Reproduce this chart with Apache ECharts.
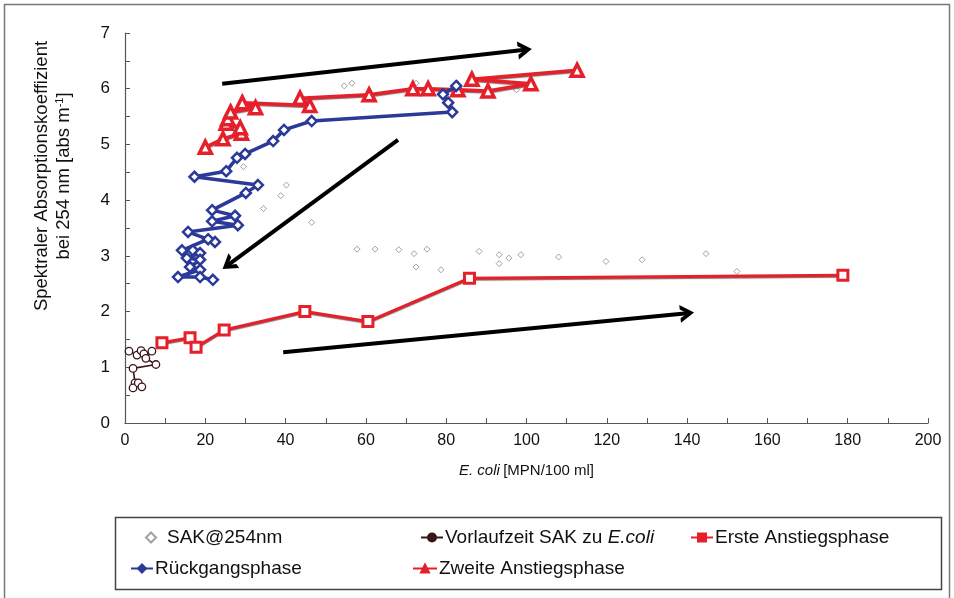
<!DOCTYPE html>
<html><head><meta charset="utf-8">
<script src="https://cdn.jsdelivr.net/npm/echarts@6/dist/echarts.min.js"></script>
<style>html,body{margin:0;padding:0;background:#fff}#c{width:954px;height:598px}</style>
</head><body><div id="c"></div>
<script>
// ---- data ----
var xTicks = [0,20,40,60,80,100,120,140,160,180,200];
var yTicks = [0,1,2,3,4,5,6,7];
var sakPoints = [[57.8,3.12],[62.3,3.12],[68.2,3.11],[72.0,3.04],[75.2,3.12],[72.5,2.80],[78.7,2.75],[88.2,3.08],[93.2,3.02],[93.2,2.86],[95.6,2.96],[98.6,3.02],[108.0,2.98],[119.8,2.90],[128.8,2.93],[144.7,3.04],[152.4,2.72],[54.6,6.05],[56.5,6.1],[72.5,6.1],[87.5,6.08],[97.5,5.98],[38.8,4.08],[40.2,4.27],[34.5,3.85],[46.5,3.6],[29.5,4.6],[28.5,3.55]];
var vorlaufPoints = [[1.0,1.29],[3.0,1.22],[4.0,1.30],[4.7,1.24],[6.7,1.29],[5.2,1.16],[7.7,1.05],[2.0,0.98],[2.5,0.72],[2.0,0.63],[3.3,0.72],[4.2,0.65]];
var erstePoints = [[9.2,1.44],[16.2,1.53],[17.7,1.36],[24.7,1.67],[44.8,2.0],[60.5,1.82],[85.8,2.6],[178.8,2.65]];
var rueckPoints = [[82.5,6.05],[79.2,5.9],[80.5,5.75],[81.5,5.58],[46.5,5.42],[39.6,5.26],[36.9,5.06],[29.9,4.83],[27.9,4.76],[25.2,4.52],[17.3,4.42],[33.1,4.27],[30.1,4.13],[21.7,3.82],[27.4,3.72],[21.7,3.62],[28.1,3.55],[15.7,3.43],[22.4,3.25],[20.7,3.30],[14.2,3.10],[16.9,3.10],[18.7,3.05],[15.4,2.96],[18.7,2.93],[16.2,2.80],[18.7,2.75],[13.2,2.62],[18.7,2.62],[21.9,2.57]];
var zweitePoints = [[20.0,4.95],[24.4,5.10],[29.0,5.20],[28.7,5.30],[25.2,5.38],[25.6,5.46],[26.3,5.58],[32.5,5.66],[29.2,5.75],[46.0,5.70],[43.6,5.83],[60.8,5.89],[71.7,6.0],[75.5,6.0],[82.9,5.98],[90.4,5.96],[101.1,6.09],[86.4,6.17],[112.6,6.33]];
var arrows = [
  [[24.2,6.09],[99.6,6.70]],
  [[68.0,5.08],[25.7,2.84]],
  [[39.4,1.27],[140.0,1.97]]
];
var seriesNames = ['SAK@254nm','Vorlaufzeit SAK zu E.coli','Erste Anstiegsphase','Rückgangsphase','Zweite Anstiegsphase'];

var FONT = '"Liberation Sans", Arial, sans-serif';
var RED = '#e5202a', BLUE = '#2b3a98', DARK = '#3b1518';

var chart = echarts.init(document.getElementById('c'), null, {renderer:'canvas'});
function legendItem(name, left, top, iw, pad, col){
  var l = {
    data:[name], left:left, top:top, orient:'horizontal', padding:0,
    itemWidth: iw, itemHeight: 10, itemGap: 0, selectedMode:false,
    textStyle:{fontFamily:FONT, fontSize:19, color:'#111', padding:[0,0,0,pad],
      rich:{n:{fontFamily:FONT,fontSize:19,color:'#111'}, i:{fontFamily:FONT,fontSize:19,color:'#111',fontStyle:'italic'}}},
    formatter: function(n){
      if(n === 'Vorlaufzeit SAK zu E.coli') return '{n|Vorlaufzeit SAK zu }{i|E.coli}';
      return '{n|' + n + '}';
    }
  };
  if (col) l.itemStyle = {color: col, borderColor: col};
  return l;
}
var option = {
  animation:false,
  textStyle:{fontFamily:FONT},
  grid:{left:125, right:26, top:33, bottom:175, containLabel:false},
  xAxis:{type:'value', min:0, max:200, interval:20,
    axisLine:{show:true, lineStyle:{color:'#555', width:1.2}},
    axisTick:{show:true, inside:true, length:5, lineStyle:{color:'#555'}},
    minorTick:{show:true, splitNumber:2, length:5, lineStyle:{color:'#555'}},
    splitLine:{show:false},
    axisLabel:{fontFamily:FONT, fontSize:16, color:'#111', margin:10},
    name:'{i|E. coli} {n|[MPN/100 ml]}', nameLocation:'middle', nameGap:40,
    nameTextStyle:{rich:{i:{fontFamily:FONT,fontSize:15,fontStyle:'italic',color:'#111'}, n:{fontFamily:FONT,fontSize:15,color:'#111'}}}
  },
  yAxis:{type:'value', min:0, max:7, interval:1,
    axisLine:{show:true, lineStyle:{color:'#555', width:1.2}},
    axisTick:{show:true, inside:true, length:5, lineStyle:{color:'#555'}},
    minorTick:{show:true, splitNumber:2, length:5, lineStyle:{color:'#555'}},
    splitLine:{show:false},
    axisLabel:{fontFamily:FONT, fontSize:17, color:'#111', margin:15}
  },
  legend:[
    legendItem(seriesNames[0], 145, 528, 10, 6, null),
    legendItem(seriesNames[1], 420, 528, 22, -3, DARK),
    legendItem(seriesNames[2], 690, 528, 22, -3, RED),
    legendItem(seriesNames[3], 130, 559, 22, -3, BLUE),
    legendItem(seriesNames[4], 412, 559, 24, -3, RED)
  ],
  graphic:[
    {type:'rect', shape:{x:4.5,y:4.5,width:945,height:610}, style:{fill:null, stroke:'#777', lineWidth:1.5}, silent:true},
    {type:'rect', shape:{x:115.5,y:517.5,width:826,height:72}, style:{fill:null, stroke:'#444', lineWidth:1.5}, silent:true},
    {type:'text', x:53, y:176, rotation:Math.PI/2,
     style:{text:'{n|Spektraler Absorptionskoeffizient}\n{n|bei 254 nm [abs m}{s|-1}{n|]}', align:'center', verticalAlign:'middle',
       rich:{n:{fontFamily:FONT,fontSize:18.5,fill:'#111',lineHeight:22}, s:{fontFamily:FONT,fontSize:11,fill:'#111',padding:[0,0,9,0],lineHeight:22}}}}
  ],
  series:[
    {name:seriesNames[0], type:'scatter', data:sakPoints, symbol:'diamond', symbolSize:6, z:1,
     itemStyle:{color:'#fff', borderColor:'#8a8a8a', borderWidth:1}},
    {name:seriesNames[1], type:'line', data:vorlaufPoints, symbol:'circle', symbolSize:7.5, z:3,
     lineStyle:{color:DARK, width:1.6}, itemStyle:{color:'#fff', borderColor:DARK, borderWidth:1.3}},
    {name:seriesNames[2], type:'line', data:erstePoints, symbol:'rect', symbolSize:10, z:4,
     lineStyle:{color:RED, width:3, shadowColor:'rgba(60,0,0,0.6)', shadowBlur:1, shadowOffsetY:1}, itemStyle:{color:'#fff', borderColor:RED, borderWidth:3}},
    {name:seriesNames[4], type:'line', data:zweitePoints, symbol:'triangle', symbolSize:12, z:4,
     lineStyle:{color:RED, width:3.5, shadowColor:'rgba(60,0,0,0.6)', shadowBlur:1, shadowOffsetY:1}, itemStyle:{color:'#fff', borderColor:RED, borderWidth:3.5}},
    {name:seriesNames[3], type:'line', data:rueckPoints, symbol:'diamond', symbolSize:10, z:5,
     lineStyle:{color:BLUE, width:3.5}, itemStyle:{color:'#fff', borderColor:BLUE, borderWidth:2.5}},
    {name:'arrows', type:'line', data:[], z:6,
     markLine:{silent:true, symbol:['none','path://M0,10 L5,0 L10,10 L7.4,10 L5,4.8 L2.6,10 Z'], symbolSize:[18,14], label:{show:false},
       lineStyle:{color:'#000', width:4, type:'solid'},
       data: arrows.map(function(a){return [{coord:a[0]},{coord:a[1]}];})}}
  ]
};
chart.setOption(option);
</script></body></html>
